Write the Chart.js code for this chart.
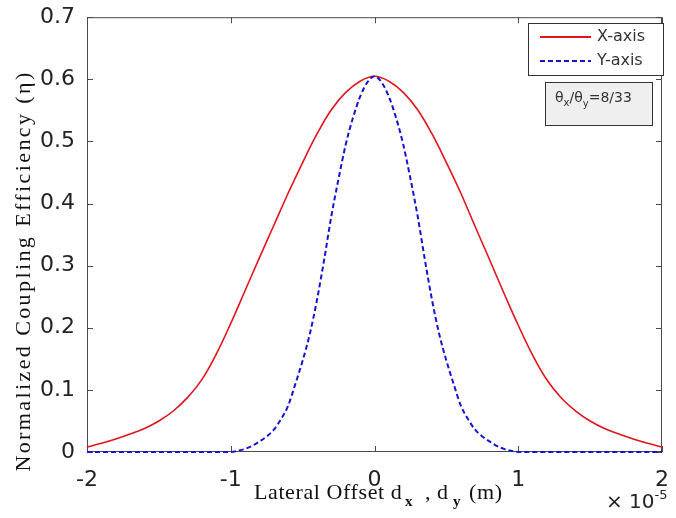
<!DOCTYPE html>
<html>
<head>
<meta charset="utf-8">
<script src="https://cdn.jsdelivr.net/npm/chart.js@4.4.1/dist/chart.umd.min.js"></script>
<style>
  html, body { margin: 0; padding: 0; background: #fff; }
</style>
</head>
<body>
<canvas id="coupling" width="676" height="518"></canvas>
<script>
// lateral offset in units of 1e-5 m
const offsetsX = [-2, -1.9, -1.8, -1.7, -1.6, -1.5, -1.4, -1.3, -1.2, -1.1, -1, -0.9, -0.8, -0.7, -0.6, -0.5, -0.4, -0.3, -0.2, -0.1, 0,
                  0.1, 0.2, 0.3, 0.4, 0.5, 0.6, 0.7, 0.8, 0.9, 1, 1.1, 1.2, 1.3, 1.4, 1.5, 1.6, 1.7, 1.8, 1.9, 2];
const etaX = [0.008, 0.014, 0.021, 0.029, 0.038, 0.050, 0.066, 0.088, 0.117, 0.158, 0.207, 0.260, 0.313, 0.365, 0.417, 0.466, 0.512, 0.551, 0.579, 0.597, 0.605,
              0.597, 0.579, 0.551, 0.512, 0.466, 0.417, 0.363, 0.310, 0.256, 0.204, 0.156, 0.116, 0.087, 0.066, 0.050, 0.038, 0.029, 0.021, 0.014, 0.008];

const offsetsY = [-2, -1.5, -1, -0.95, -0.9, -0.85, -0.8, -0.75, -0.7, -0.65, -0.6, -0.55, -0.5, -0.45, -0.4, -0.35, -0.3, -0.25, -0.2, -0.15, -0.1, -0.05, 0,
                  0.05, 0.1, 0.15, 0.2, 0.25, 0.3, 0.35, 0.4, 0.45, 0.5, 0.55, 0.6, 0.65, 0.7, 0.75, 0.8, 0.85, 0.9, 0.95, 1, 1.5, 2];
const etaY = [0, 0, 0, 0.002, 0.005, 0.010, 0.017, 0.025, 0.036, 0.053, 0.075, 0.110, 0.147, 0.190, 0.245, 0.310, 0.380, 0.440, 0.495, 0.538, 0.572, 0.595, 0.605,
              0.595, 0.572, 0.538, 0.495, 0.440, 0.380, 0.310, 0.245, 0.190, 0.147, 0.110, 0.075, 0.053, 0.036, 0.025, 0.017, 0.010, 0.005, 0.002, 0, 0, 0];

const seriesNames = ["X-axis", "Y-axis"];
const xTickValues = [-2, -1, 0, 1, 2];
const yTickValues = [0, 0.1, 0.2, 0.3, 0.4, 0.5, 0.6, 0.7];

const RED = "#e3141c";
const BLUE = "#1414d2";
const SANS = "'DejaVu Sans', sans-serif";
const SERIF = "'Liberation Serif', 'Times New Roman', serif";

const toPoints = (xs, ys) => xs.map((v, i) => ({ x: v, y: ys[i] }));

// draws a run of text pieces (for subscripts / superscripts)
function drawPieces(ctx, pieces, x, y) {
  pieces.forEach(p => {
    ctx.font = p.font;
    const px = p.x !== undefined ? p.x : x;
    ctx.fillText(p.t, px, y + (p.dy || 0));
    x = px + ctx.measureText(p.t).width;
  });
}

const decor = {
  id: "decor",
  beforeDatasetsDraw(chart) {
    const { ctx, chartArea: a, scales: { x, y } } = chart;
    ctx.save();
    ctx.strokeStyle = "#4a4a4a";
    ctx.lineWidth = 1;
    ctx.strokeRect(a.left + 0.5, a.top + 0.5, a.right - a.left - 1, a.bottom - a.top - 1);
    ctx.beginPath();
    xTickValues.forEach(v => {
      const px = Math.round(x.getPixelForValue(v)) + 0.5;
      ctx.moveTo(px, a.bottom); ctx.lineTo(px, a.bottom - 6);
      ctx.moveTo(px, a.top); ctx.lineTo(px, a.top + 6);
    });
    yTickValues.forEach(v => {
      const py = Math.round(y.getPixelForValue(v)) + 0.5;
      ctx.moveTo(a.left, py); ctx.lineTo(a.left + 6, py);
      ctx.moveTo(a.right, py); ctx.lineTo(a.right - 6, py);
    });
    ctx.stroke();
    ctx.restore();
  },
  afterDraw(chart) {
    const { ctx } = chart;
    ctx.save();
    ctx.fillStyle = "#111";

    // y axis title
    ctx.save();
    ctx.translate(30, 271);
    ctx.rotate(-Math.PI / 2);
    ctx.font = "22px " + SERIF;
    ctx.letterSpacing = "2.4px";
    ctx.textAlign = "center";
    ctx.fillText("Normalized Coupling Efficiency (\u03b7)", 0, 0);
    ctx.restore();

    // x axis title
    ctx.textAlign = "left";
    ctx.letterSpacing = "0.6px";
    const f = "22px " + SERIF, fs = "bold 15px " + SERIF;
    drawPieces(ctx, [
      { t: "Lateral Offset d", font: f, x: 254 },
      { t: "x", font: fs, dy: 7, x: 405 },
      { t: ",", font: f, x: 425 },
      { t: "d", font: f, x: 437 },
      { t: "y", font: fs, dy: 7, x: 453 },
      { t: "(m)", font: f, x: 469 }
    ], 254, 499);
    ctx.letterSpacing = "0px";

    // exponent
    ctx.fillStyle = "#222";
    drawPieces(ctx, [
      { t: "\u00d7 10", font: "20px " + SANS },
      { t: "-5", font: "13px " + SANS, dy: -9 }
    ], 606, 508);

    // legend
    ctx.fillStyle = "#fff";
    ctx.fillRect(528, 23, 135, 52);
    ctx.strokeStyle = "#333";
    ctx.lineWidth = 1;
    ctx.strokeRect(528.5, 23.5, 135, 52);
    ctx.lineWidth = 2;
    ctx.strokeStyle = RED;
    ctx.beginPath(); ctx.moveTo(540, 37); ctx.lineTo(591, 37); ctx.stroke();
    ctx.strokeStyle = BLUE;
    ctx.setLineDash([5, 3]);
    ctx.beginPath(); ctx.moveTo(540, 61); ctx.lineTo(591, 61); ctx.stroke();
    ctx.setLineDash([]);
    ctx.fillStyle = "#333";
    ctx.font = "16px " + SANS;
    ctx.textBaseline = "middle";
    ctx.fillText(seriesNames[0], 597, 37);
    ctx.fillText(seriesNames[1], 597, 61);

    // ratio annotation
    ctx.fillStyle = "#efefef";
    ctx.fillRect(545, 82, 107, 43);
    ctx.strokeStyle = "#333";
    ctx.lineWidth = 1;
    ctx.strokeRect(545.5, 82.5, 107, 43);
    ctx.fillStyle = "#333";
    ctx.textBaseline = "alphabetic";
    const a = "14px " + SANS, s = "10px " + SANS;
    drawPieces(ctx, [
      { t: "\u03b8", font: a },
      { t: "x", font: s, dy: 4 },
      { t: "/\u03b8", font: a },
      { t: "y", font: s, dy: 5 },
      { t: "=8/33", font: a }
    ], 555, 102);
    ctx.restore();
  }
};

new Chart(document.getElementById("coupling"), {
  type: "line",
  data: {
    datasets: [
      {
        label: seriesNames[1],
        data: toPoints(offsetsY, etaY),
        borderColor: BLUE,
        borderWidth: 2,
        borderDash: [5, 3],
        pointRadius: 0,
        cubicInterpolationMode: "monotone",
        clip: false,
        fill: false
      },
      {
        label: seriesNames[0],
        data: toPoints(offsetsX, etaX),
        borderColor: RED,
        borderWidth: 1.6,
        pointRadius: 0,
        tension: 0.4,
        clip: false,
        fill: false
      }
    ]
  },
  options: {
    responsive: false,
    animation: false,
    devicePixelRatio: 1,
    layout: { padding: { top: 16, right: 8, left: 0, bottom: 0 } },
    plugins: {
      legend: { display: false },
      tooltip: { enabled: false }
    },
    scales: {
      x: {
        type: "linear",
        min: -2,
        max: 2,
        afterBuildTicks: s => { s.ticks = xTickValues.map(v => ({ value: v })); },
        afterFit: s => { s.height = 66; },
        grid: { display: false },
        border: { display: false },
        ticks: {
          padding: 7,
          color: "#222",
          font: { family: SANS, size: 22 },
          maxRotation: 0,
          callback: v => String(v)
        }
      },
      y: {
        min: 0,
        max: 0.7,
        afterBuildTicks: s => { s.ticks = yTickValues.map(v => ({ value: v })); },
        afterFit: s => { s.width = 87; },
        grid: { display: false },
        border: { display: false },
        ticks: {
          padding: 4,
          color: "#222",
          font: { family: SANS, size: 22 },
          callback: v => (v === 0 ? "0" : v.toFixed(1))
        }
      }
    }
  },
  plugins: [decor]
});
</script>
</body>
</html>
